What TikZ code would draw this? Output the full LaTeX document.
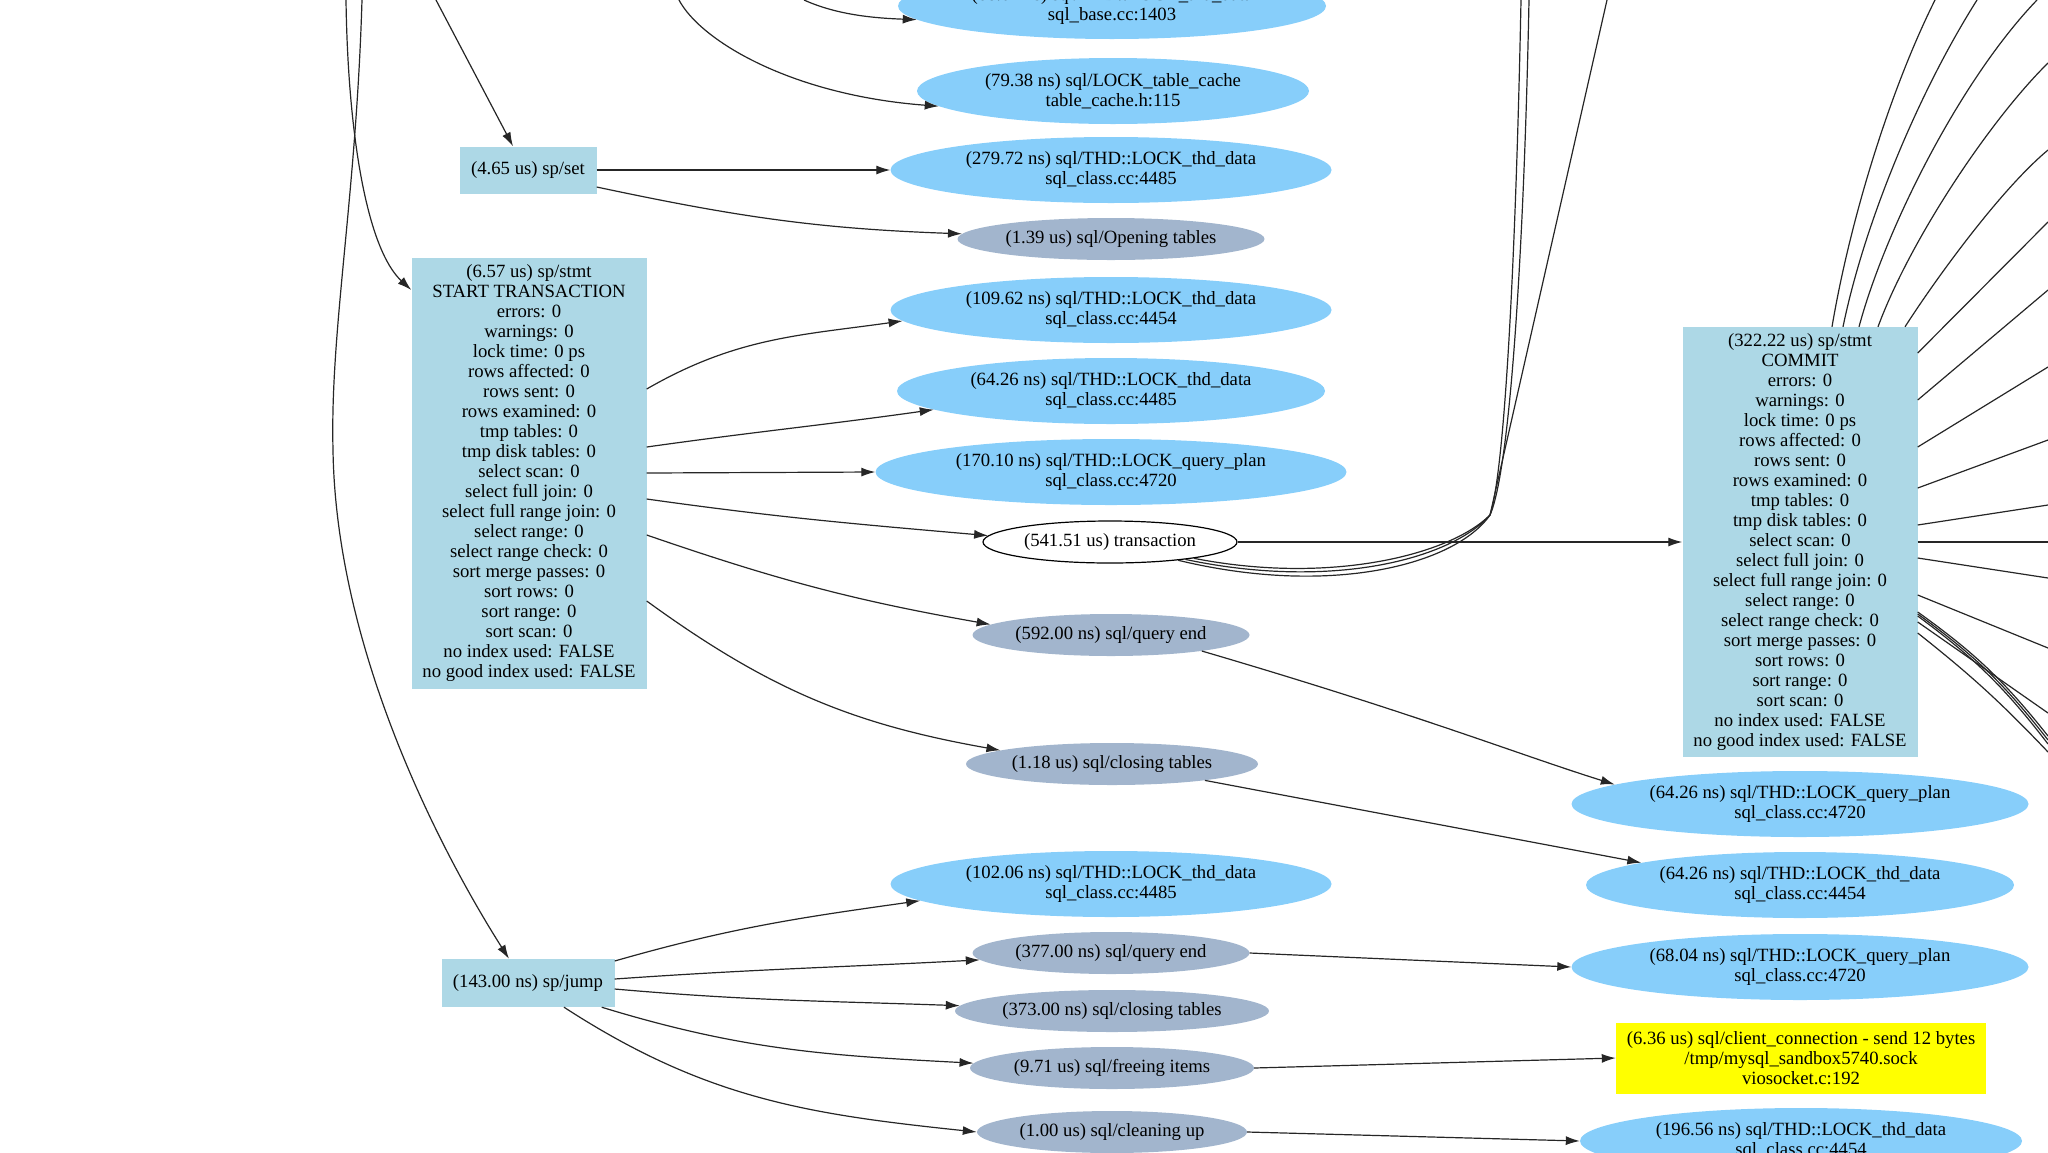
\documentclass[tikz,border=0pt]{standalone}
\usepackage{fontspec}
\setmainfont{Liberation Serif}
\usepackage{xcolor}
\usepackage{tikz}
\usetikzlibrary{arrows.meta,positioning,shapes.geometric}
\definecolor{spblue}{HTML}{ADD8E6}
\definecolor{lockblue}{HTML}{87CEFA}
\definecolor{stagegrey}{HTML}{A2B5CD}
\definecolor{sockyellow}{HTML}{FFFF00}
\newcommand{\stmtstats}{errors: 0\\warnings: 0\\lock time: 0 ps\\rows affected: 0\\rows sent: 0\\rows examined: 0\\tmp tables: 0\\tmp disk tables: 0\\select scan: 0\\select full join: 0\\select full range join: 0\\select range: 0\\select range check: 0\\sort merge passes: 0\\sort rows: 0\\sort range: 0\\sort scan: 0\\no index used: FALSE\\no good index used: FALSE}

\begin{document}
\begin{tikzpicture}[x=1pt, y=-1pt,
    font=\fontsize{18.7}{20}\selectfont,
    >={Latex[length=14pt,width=9pt]},
    spbox/.style={rectangle, fill=spblue, inner sep=0pt, align=center},
    lockell/.style={ellipse, fill=lockblue, inner sep=0pt, align=center, minimum height=66},
    stageell/.style={ellipse, fill=stagegrey, inner sep=0pt, minimum height=42},
    link/.style={->, line width=1.2pt, black!85},
    wire/.style={line width=1.2pt, black!85}]
    \useasboundingbox (0,0) rectangle (2048,1152);
    \clip (0,0) rectangle (2048,1152);

    % Left column: sp nodes
    \node[spbox, minimum width=137, minimum height=47] (spset) at (528,170) {(4.65 us) sp/set};
    \node[spbox, minimum width=235, minimum height=431] (start) at (529,473) {(6.57 us) sp/stmt\\START TRANSACTION\\\stmtstats};
    \node[spbox, minimum width=173, minimum height=48] (jump) at (528,983) {(143.00 ns) sp/jump};

    % Middle column: waits and stages
    \node[lockell, minimum width=428] (sqlbase) at (1112,6) {(68.04 ns) sql/THD::LOCK\_thd\_data\\sql\_base.cc:1403};
    \node[lockell, minimum width=392] (tablecache) at (1113,91) {(79.38 ns) sql/LOCK\_table\_cache\\table\_cache.h:115};
    \node[lockell, minimum width=441] (thd279) at (1111,170) {(279.72 ns) sql/THD::LOCK\_thd\_data\\sql\_class.cc:4485};
    \node[stageell, minimum width=307] (opening) at (1111,239) {(1.39 us) sql/Opening tables};
    \node[lockell, minimum width=441] (thd109) at (1111,310) {(109.62 ns) sql/THD::LOCK\_thd\_data\\sql\_class.cc:4454};
    \node[lockell, minimum width=428] (thd64) at (1111,391) {(64.26 ns) sql/THD::LOCK\_thd\_data\\sql\_class.cc:4485};
    \node[lockell, minimum width=471] (plan170) at (1111,472) {(170.10 ns) sql/THD::LOCK\_query\_plan\\sql\_class.cc:4720};
    \node[ellipse, draw, line width=1.2pt, fill=white, inner sep=0pt, minimum width=254, minimum height=42] (trans) at (1110,542) {(541.51 us) transaction};
    \node[stageell, minimum width=277] (qend592) at (1111,635) {(592.00 ns) sql/query end};
    \node[stageell, minimum width=292] (close118) at (1112,764) {(1.18 us) sql/closing tables};
    \node[lockell, minimum width=441] (thd102) at (1111,884) {(102.06 ns) sql/THD::LOCK\_thd\_data\\sql\_class.cc:4485};
    \node[stageell, minimum width=277] (qend377) at (1111,953) {(377.00 ns) sql/query end};
    \node[stageell, minimum width=314] (close373) at (1112,1011) {(373.00 ns) sql/closing tables};
    \node[stageell, minimum width=284] (freeing) at (1112,1068) {(9.71 us) sql/freeing items};
    \node[stageell, minimum width=270] (cleanup) at (1112,1132) {(1.00 us) sql/cleaning up};

    % Right column: COMMIT and its children
    \node[spbox, minimum width=235, minimum height=430] (commit) at (1800,542) {(322.22 us) sp/stmt\\COMMIT\\\stmtstats};
    \node[lockell, minimum width=457] (plan64) at (1800,804) {(64.26 ns) sql/THD::LOCK\_query\_plan\\sql\_class.cc:4720};
    \node[lockell, minimum width=428] (thd64b) at (1800,885) {(64.26 ns) sql/THD::LOCK\_thd\_data\\sql\_class.cc:4454};
    \node[lockell, minimum width=457] (plan68) at (1800,967) {(68.04 ns) sql/THD::LOCK\_query\_plan\\sql\_class.cc:4720};
    \node[rectangle, fill=sockyellow, inner sep=0pt, align=center, minimum width=370, minimum height=71] (socket) at (1801,1058) {(6.36 us) sql/client\_connection - send 12 bytes\\/tmp/mysql\_sandbox5740.sock\\viosocket.c:192};
    \node[lockell, minimum width=442] (thd196) at (1801,1141) {(196.56 ns) sql/THD::LOCK\_thd\_data\\sql\_class.cc:4454};

    % Loose ends outside the frame
    \coordinate (fromA) at (346,0);
    \coordinate (fromB) at (362,0);
    \coordinate (fromC) at (436,0);
    \coordinate (fromD) at (804,0);
    \coordinate (fromE) at (679,0);
    \coordinate (tbend) at (1490,515);
    \coordinate (upT1) at (1521,0);
    \coordinate (upT2) at (1529,0);
    \coordinate (upT3) at (1607,0);
    \coordinate (upA) at (1935,0);
    \coordinate (upB) at (1977,0);
    \coordinate (upC) at (2037,0);
    \coordinate (rtD) at (2048,63);
    \coordinate (rtE) at (2048,150);
    \coordinate (rtF) at (2048,222);
    \coordinate (rtG) at (2048,290);
    \coordinate (rtH) at (2048,367);
    \coordinate (rtI) at (2048,440);
    \coordinate (rtJ) at (2048,505);
    \coordinate (rtK) at (2048,542);
    \coordinate (rtL) at (2048,578);
    \coordinate (rtM) at (2048,648);
    \coordinate (rtN1) at (2048,736);
    \coordinate (rtN2) at (2048,740);
    \coordinate (rtN3) at (2048,744);
    \coordinate (rtO) at (2048,713);
    \coordinate (rtP) at (2048,752);

    % Edges coming in from above
    \draw[link] (fromA) .. controls (348,140) and (368,250) .. ([yshift=183]start.west);
    \draw[link] (fromB) .. controls (356,200) and (330,330) .. (333,450) .. controls (336,650) and (440,850) .. ([xshift=-19]jump.north);
    \draw[link] (fromC) -- ([xshift=-15]spset.north);
    \draw[link] (fromD) .. controls (835,14) and (870,18) .. (sqlbase.184);
    \draw[link] (fromE) .. controls (700,40) and (790,95) .. (tablecache.185);

    % sp/set
    \draw[link] (spset.east) -- (thd279.west);
    \draw[link] ([yshift=-17]spset.east) to[out=-12, in=178] (opening.178);

    % START TRANSACTION
    \draw[link] ([yshift=84]start.east) to[out=30, in=188] (thd109.183);
    \draw[link] ([yshift=26]start.east) to[out=8, in=188] (thd64.186);
    \draw[link] (start.east) -- (plan170.west);
    \draw[link] ([yshift=-26]start.east) to[out=-8, in=175] (trans.177);
    \draw[link] ([yshift=-62]start.east) to[out=-19, in=170] (qend592.175);
    \draw[link] ([yshift=-128]start.east) to[out=-36, in=170] (close118.173);

    % transaction
    \draw[link] (trans.east) -- (commit.west);
    \draw[wire] (trans.-13) .. controls (1330,590) and (1450,560) .. (tbend) .. controls (1505,470) and (1516,250) .. (upT1);
    \draw[wire] (trans.-15) .. controls (1330,597) and (1455,565) .. (tbend) .. controls (1510,470) and (1524,250) .. (upT2);
    \draw[wire] (trans.-11) .. controls (1330,585) and (1450,555) .. (tbend) -- (upT3);

    % stages to their waits
    \draw[link] (qend592.-10) .. controls (1420,715) and (1520,755) .. (plan64.174);
    \draw[link] (close118.-10) -- (thd64b.172);
    \draw[link] (qend377.east) -- (plan68.west);
    \draw[link] (freeing.east) -- (socket.west);
    \draw[link] (cleanup.east) -- (thd196.west);

    % sp/jump
    \draw[link] ([yshift=22]jump.east) to[out=16, in=188] (thd102.185);
    \draw[link] ([yshift=4]jump.east) to[out=4, in=183] (qend377.183);
    \draw[link] ([yshift=-6]jump.east) to[out=-5, in=178] (close373.178);
    \draw[link] ([xshift=-13]jump.south east) to[out=-17, in=177] (freeing.178);
    \draw[link] ([xshift=36]jump.south) to[out=-33, in=174] (cleanup.west);

    % COMMIT fan to the right
    \draw[wire] ([xshift=32]commit.north) .. controls (1850,220) and (1890,90) .. (upA);
    \draw[wire] ([xshift=43]commit.north) .. controls (1865,220) and (1920,90) .. (upB);
    \draw[wire] ([xshift=59]commit.north) .. controls (1885,230) and (1960,80) .. (upC);
    \draw[wire] ([xshift=78]commit.north) .. controls (1910,240) and (1990,120) .. (rtD);
    \draw[wire] ([xshift=105]commit.north) .. controls (1935,280) and (2000,190) .. (rtE);
    \draw[wire] ([yshift=189]commit.east) -- (rtF);
    \draw[wire] ([yshift=142]commit.east) -- (rtG);
    \draw[wire] ([yshift=95]commit.east) -- (rtH);
    \draw[wire] ([yshift=54]commit.east) -- (rtI);
    \draw[wire] ([yshift=17]commit.east) -- (rtJ);
    \draw[wire] (commit.east) -- (rtK);
    \draw[wire] ([yshift=-16]commit.east) -- (rtL);
    \draw[wire] ([yshift=-53]commit.east) -- (rtM);
    \draw[wire] ([yshift=-70]commit.east) to[bend left=8] (rtN1);
    \draw[wire] ([yshift=-72]commit.east) to[bend left=8] (rtN2);
    \draw[wire] ([yshift=-74]commit.east) to[bend left=8] (rtN3);
    \draw[wire] ([yshift=-80]commit.east) -- (rtO);
    \draw[wire] ([yshift=-91]commit.east) to[bend left=4] (rtP);
\end{tikzpicture}
\end{document}
